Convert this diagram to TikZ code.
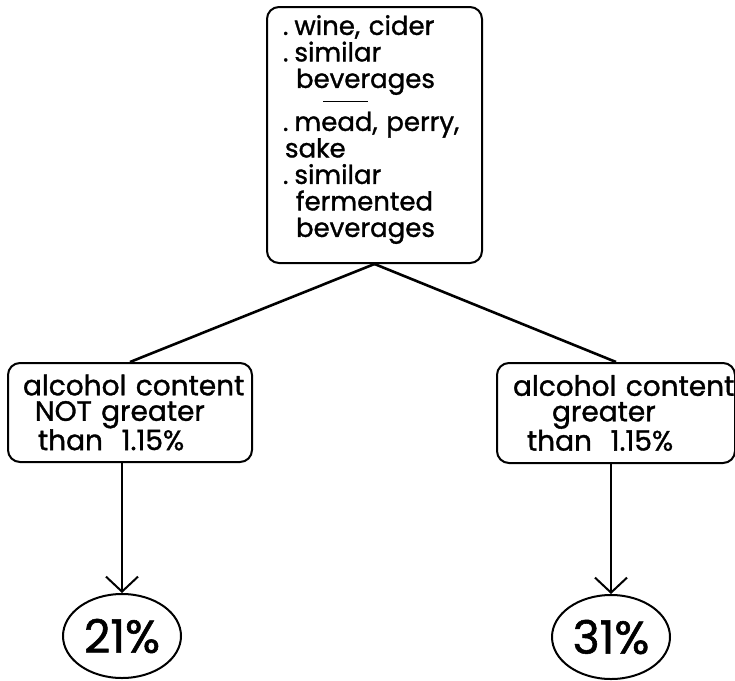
\documentclass[tikz,border=0pt]{standalone}
\usepackage{fontspec}
\setmainfont{Poppins}[FakeBold=1.2]
\usetikzlibrary{arrows.meta,shapes.geometric}

\begin{document}
\begin{tikzpicture}[x=1pt,y=-1pt,line width=2pt,
        box/.style={draw, rounded corners=12pt, align=left, inner xsep=0pt, inner ysep=0pt},
        pct/.style={draw, ellipse, minimum width=118pt, minimum height=84pt, inner sep=0pt,
            font=\fontsize{46}{50}\selectfont},
        barb/.style={-{Straight Barb[length=15pt,width=32pt]}}]
        \useasboundingbox (0,0) rectangle (735,680);
        % top box
        \node[box, text width=215pt, minimum height=256pt, font=\fontsize{26}{26.5}\selectfont] (bev) at (374.5,135) {%
            \hspace*{16pt}.\hspace{6pt}wine, cider\\
            \hspace*{16pt}.\hspace{6pt}similar\\
            \hspace*{29pt}beverages\\[-9pt]
            \hspace*{56pt}\rule[3pt]{45pt}{1.8pt}\\[-1pt]
            \hspace*{16pt}.\hspace{6pt}mead, perry,\\
            \hspace*{18pt}sake\\
            \hspace*{16pt}.\hspace{6pt}similar\\
            \hspace*{29pt}fermented\\
            \hspace*{29pt}beverages\rule[-18pt]{0pt}{18pt}};
        % lower boxes
        \node[box, text width=244pt, minimum height=99pt, font=\fontsize{28}{25.5}\selectfont] (lo) at (130,412.5) {%
            \hspace*{15pt}alcohol content\\
            \hspace*{27pt}NOT greater\\
            \hspace*{30pt}than\ \ 1.15\%};
        \node[box, text width=238pt, minimum height=100pt, font=\fontsize{28}{25.5}\selectfont] (hi) at (616,413) {%
            \hspace*{16pt}alcohol content\\
            \hspace*{55pt}greater\\
            \hspace*{30pt}than\ \ 1.15\%};
        % shares
        \node[pct] (p21) at (122,636) {21\%};
        \node[pct] (p31) at (611,637) {31\%};
        \draw[line width=2.6pt] (bev.south) -- (lo.north);
        \draw[line width=2.6pt] (bev.south) -- (hi.north);
        \draw[barb] (p21.north |- lo.south) -- (p21.north);
        \draw[barb] (p31.north |- hi.south) -- (p31.north);
    \end{tikzpicture}
\end{document}
